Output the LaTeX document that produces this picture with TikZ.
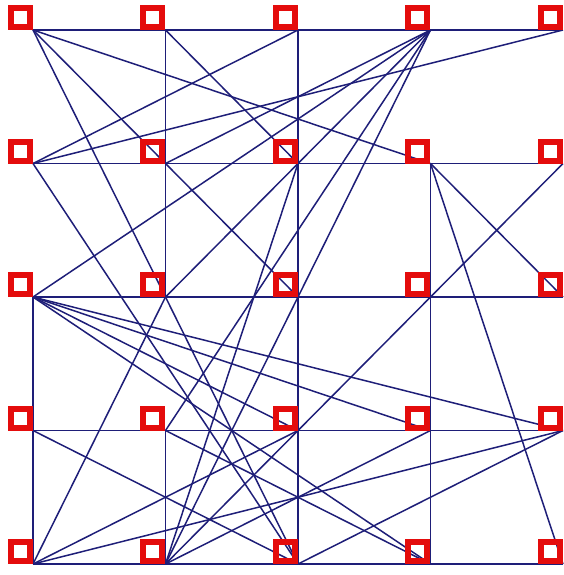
\documentclass[tikz,border=0pt]{standalone}
\usepackage{tikz}
\usetikzlibrary{backgrounds}

\definecolor{boxred}{RGB}{228,12,12}
\definecolor{wirenavy}{RGB}{30,30,120}

\begin{document}
\begin{tikzpicture}[
  x=0.5pt, y=-0.5pt,
  cell/.style={draw=boxred, line width=3pt, minimum size=9.5pt, inner sep=0pt},
  wire/.style={draw=wirenavy, line width=0.75pt}
]
  \useasboundingbox (0,0) rectangle (564,575);
  \def\dx{132.5}
  \def\dy{133.5}

  % 5x5 grid of cells
  \foreach \c in {1,...,5}
    \foreach \r in {1,...,5}
      \node[cell] (n\c\r) at ({20.5+\dx*(\c-1)}, {17.5+\dy*(\r-1)}) {};

  \begin{pgfonlayer}{background}
    % rows and columns
    \foreach \a/\b in {11/51, 12/52, 13/53, 14/54, 15/55,
                       13/15, 21/23, 24/25, 31/35, 42/45}
      \draw[wire] (n\a.south east) -- (n\b.south east);

    % cross links
    \foreach \a/\b in {11/42, 11/33, 11/35, 21/32, 31/12, 51/12,
                       41/22, 41/13, 41/23, 41/24, 41/25,
                       12/35, 32/25, 42/53, 42/55, 52/25,
                       13/54, 13/45, 13/34, 13/44, 23/15,
                       14/35, 15/34, 15/54, 24/45, 35/54, 25/44}
      \draw[wire] (n\a.south east) -- (n\b.south east);
  \end{pgfonlayer}
\end{tikzpicture}
\end{document}
